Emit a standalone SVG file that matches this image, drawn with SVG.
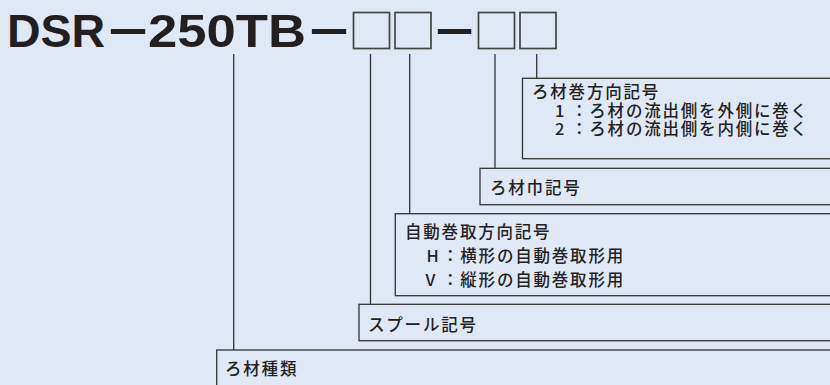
<svg xmlns="http://www.w3.org/2000/svg" width="830" height="385" viewBox="0 0 830 385">
<style>
.title{font-family:"Liberation Sans",Arial,sans-serif;font-weight:bold;font-size:46.5px;fill:#231f20}
.sq{fill:none;stroke:#444;stroke-width:1.7}
.box{fill:none;stroke:#333;stroke-width:1.3}
.conn line{stroke:#333;stroke-width:1.3}
.lbl{font-family:"Noto Sans CJK JP","Noto Sans",sans-serif;font-size:16.5px;font-weight:500;letter-spacing:1.8px;fill:#222}
</style>
<rect x="0" y="0" width="830" height="385" fill="#E1E8F5"/>
<g id="title">
<text class="title" y="46.7"><tspan x="7">DSR</tspan><tspan x="108" textLength="40" lengthAdjust="spacingAndGlyphs">−</tspan><tspan x="148" textLength="158" lengthAdjust="spacingAndGlyphs">250TB</tspan><tspan x="309" textLength="40" lengthAdjust="spacingAndGlyphs">−</tspan><tspan x="435" textLength="39" lengthAdjust="spacingAndGlyphs">−</tspan></text>
<rect class="sq" x="353.5" y="12.5" width="36" height="36"/>
<rect class="sq" x="395" y="12.5" width="36" height="36"/>
<rect class="sq" x="478.5" y="12.5" width="36" height="36"/>
<rect class="sq" x="520" y="12.5" width="36" height="36"/>
</g>
<g id="connectors" class="conn">
<line x1="536.7" y1="54" x2="536.7" y2="78.3"/>
<line x1="495" y1="54" x2="495" y2="168.3"/>
<line x1="409.7" y1="54" x2="409.7" y2="213.7"/>
<line x1="370.5" y1="54" x2="370.5" y2="304.3"/>
<line x1="233.7" y1="54" x2="233.7" y2="350"/>
</g>
<g id="node-winding">
<rect class="box" x="522.5" y="78.3" width="320" height="80.4"/>
<text class="lbl" x="532" y="97.5">ろ材巻方向記号</text>
<text class="lbl" y="116.5"><tspan x="555">1</tspan><tspan x="571">：ろ材の流出側を外側に巻く</tspan></text>
<text class="lbl" y="135"><tspan x="555">2</tspan><tspan x="571">：ろ材の流出側を内側に巻く</tspan></text>
</g>
<g id="node-width">
<rect class="box" x="480" y="168.3" width="360" height="36.4"/>
<text class="lbl" x="490" y="194">ろ材巾記号</text>
</g>
<g id="node-auto">
<rect class="box" x="395.3" y="213.7" width="450" height="82"/>
<text class="lbl" x="405" y="237.5">自動巻取方向記号</text>
<text class="lbl" y="261.5"><tspan x="426.5">H</tspan><tspan x="442">：横形の自動巻取形用</tspan></text>
<text class="lbl" y="285.5"><tspan x="425.5">V</tspan><tspan x="442">：縦形の自動巻取形用</tspan></text>
</g>
<g id="node-spool">
<rect class="box" x="359" y="304.3" width="480" height="36.4"/>
<text class="lbl" x="368" y="330.5">スプール記号</text>
</g>
<g id="node-type">
<rect class="box" x="216.7" y="350" width="630" height="50"/>
<text class="lbl" x="225" y="374.5">ろ材種類</text>
</g>
</svg>
